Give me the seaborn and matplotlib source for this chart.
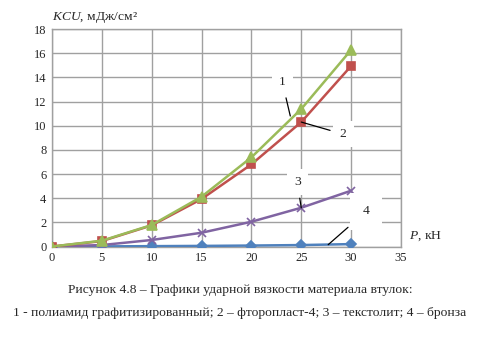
import matplotlib
matplotlib.use("Agg")
import matplotlib.pyplot as plt
import seaborn as sns
import pandas as pd

# Load P, kN
load = [0, 5, 10, 15, 20, 25, 30]

# Impact strength KCU, mJ/cm2, per bushing material
kcu_polyamide = [0.0, 0.48, 1.78, 4.12, 7.38, 11.38, 16.27]
kcu_ptfe = [0.0, 0.45, 1.75, 3.93, 6.8, 10.3, 14.94]
kcu_textolite = [0.0, 0.12, 0.54, 1.14, 2.05, 3.21, 4.62]
kcu_bronze = [0.0, 0.01, 0.03, 0.05, 0.08, 0.12, 0.2]

series_names = ["4", "3", "2", "1"]
series_values = [kcu_bronze, kcu_textolite, kcu_ptfe, kcu_polyamide]
colors = ["#4F81BD", "#8064A2", "#C0504D", "#9BBB59"]
markers = ["D", "x", "s", "^"]
marker_sizes = [5, 6, 6, 7]

x_ticks = [0, 5, 10, 15, 20, 25, 30, 35]
y_ticks = [0, 2, 4, 6, 8, 10, 12, 14, 16, 18]

rows = []
for name, vals in zip(series_names, series_values):
    for p, v in zip(load, vals):
        rows.append({"P": p, "KCU": v, "curve": name})
df = pd.DataFrame(rows)

sns.set_style("white")
plt.rcParams["font.family"] = ["Liberation Serif", "DejaVu Serif"]
plt.rcParams["mathtext.fontset"] = "custom"
plt.rcParams["mathtext.rm"] = "Liberation Serif"
plt.rcParams["mathtext.it"] = "Liberation Serif:italic"

fig = plt.figure(figsize=(4.9, 3.37), dpi=100)
ax = fig.add_axes([0.1061, 0.2685, 0.7122, 0.6454])

for name, col, mk, ms in zip(series_names, colors, markers, marker_sizes):
    sub = df[df["curve"] == name]
    sns.lineplot(data=sub, x="P", y="KCU", ax=ax, color=col, marker=mk,
                 markersize=ms, markeredgecolor=col, markeredgewidth=1.2,
                 linewidth=1.8, legend=False, zorder=3)

ax.set_xlim(0, 35)
ax.set_ylim(0, 18)
ax.set_xticks(x_ticks)
ax.set_yticks(y_ticks)
ax.tick_params(axis="both", labelsize=9, length=0, pad=4)
ax.grid(True, color="#A0A0A0", linewidth=1.0, zorder=0)
ax.set_axisbelow(True)
for s in ax.spines.values():
    s.set_color("#A0A0A0")
    s.set_linewidth(1.0)
ax.set_xlabel("")
ax.set_ylabel("")

# Axis titles
fig.text(0.106, 0.948, "$\\it{KCU}$, мДж/см²", fontsize=9.7, ha="left", va="center")
ax.text(35.8, 0.85, "$\\it{P}$, кН", fontsize=9.7, ha="left", va="center",
        clip_on=False)

# Curve labels with leader lines
box = dict(facecolor="white", edgecolor="none", pad=5)
leader = dict(arrowstyle="-", color="black", lw=0.9, shrinkA=2, shrinkB=0)
ax.annotate("1", xy=(23.9, 10.8), xytext=(23.1, 13.6), fontsize=9.7, ha="center",
            va="center", bbox=box, arrowprops=leader, zorder=5)
ax.annotate("2", xy=(25.0, 10.3), xytext=(29.2, 9.3), fontsize=9.7, ha="center",
            va="center", bbox=box, arrowprops=leader, zorder=5)
ax.annotate("3", xy=(25.0, 3.2), xytext=(24.6, 5.3), fontsize=9.7, ha="center",
            va="center", bbox=box, arrowprops=leader, zorder=5)
ax.annotate("4", xy=(27.7, 0.15), xytext=(31.5, 2.9), fontsize=9.7, ha="center",
            va="center", bbox=dict(facecolor="white", edgecolor="none", pad=9),
            arrowprops=leader, zorder=5)

# Caption
fig.text(0.49, 0.138, "Рисунок 4.8 – Графики ударной вязкости материала втулок:",
         fontsize=9.7, ha="center", va="center")
fig.text(0.49, 0.07,
         "1 - полиамид графитизированный; 2 – фторопласт-4; 3 – текстолит; 4 – бронза",
         fontsize=9.7, ha="center", va="center")

fig.savefig("out.png", dpi=100, facecolor="white")
